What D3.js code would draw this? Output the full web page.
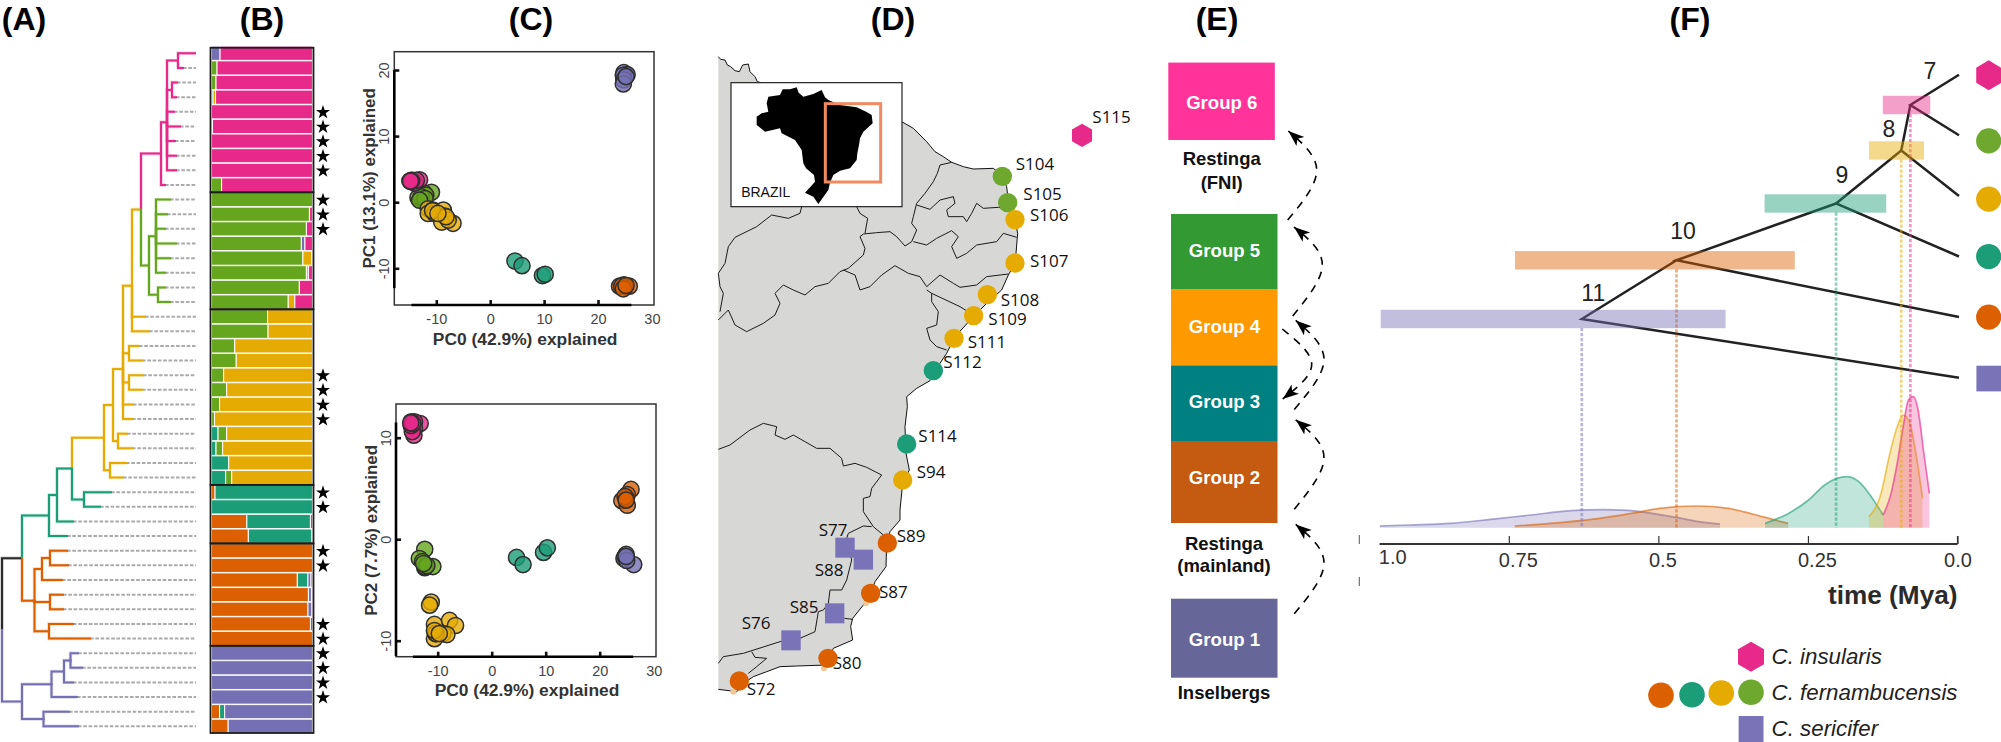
<!DOCTYPE html>
<html><head><meta charset="utf-8">
<script src="https://cdn.jsdelivr.net/npm/d3@7/dist/d3.min.js"></script>
<style>html,body{margin:0;padding:0;background:#fff;overflow:hidden}svg{display:block;font-family:"Liberation Sans",Arial,sans-serif}</style>
</head><body><svg id="c" width="2001" height="742"></svg>
<script>
// ---------- shared colours ----------
const clusterColors = {orange:"#dc5f00",teal:"#1b9e77",green:"#66a61e",purple:"#7570b3",yellow:"#e6ab02",pink:"#e7298a",black:"#2b2b2b"};
const panelTitles = ["(A)","(B)","(C)","(D)","(E)","(F)"];
// ---------- A: tree (depth, children) ----------
const n=(d,c,...k)=>({d,c,k});
const treeRoot = n(0,"black",
 n(20,"black",
  n(47,"teal",
   n(55,"teal",
    n(70,"teal",
     n(102,"yellow",
      n(111,"yellow",
       n(121,"yellow",
        n(130,"yellow",
         n(139,"yellow",
          n(159,"pink",
           n(165,"pink",
            n(176,"pink",n(193),n(181)),
            n(170,"pink",n(175),n(174)),
            n(172),n(178),n(173),n(174),n(174)),
           n(163)),
          n(147,"green",
           n(154,"green",n(168),n(165),n(163),n(174),n(168),n(163)),
           n(156,"green",n(163),n(168)))),
         n(143),n(147)),
        n(127,"yellow",n(137),n(140)),
        n(127,"yellow",n(141),n(140)),
        n(131),n(130)),
       n(116,"yellow",n(125),n(130))),
      n(108,"yellow",n(124),n(121))),
     n(82,"teal",n(109),n(98))),
    n(71)),
   n(65)),
  n(32.5,"orange",
   n(40,"orange",n(48,"orange",n(65),n(66)),n(60)),
   n(48,"orange",n(61),n(61)),
   n(47,"orange",n(71),n(88)))),
 n(20,"purple",
  n(49.5,"purple",
   n(62,"purple",n(68.5,"purple",n(76),n(80)),n(71)),
   n(75)),
  n(41.5,"purple",n(67),n(76))));
// ---------- B: admixture, one array per cluster, 47 rows ----------
const stackKeys = ["orange","teal","green","purple","yellow","pink"];
const qOrange = [0,0,0,0,0,0,0,0,0,0, 0,0,0,0,0,0,0,0, 0,0,0,0,0,0,0,0,0,0,0,0, .035,0,.35,.365, 1,1,.85,.96,.955,.98,1, 0,0,0,0,.08,.165];
const qTeal   = [0,0,0,.015,0,0,0,0,0,0, 0,0,0,0,0,0,0,0, 0,0,0,0,0,0,0,0,.065,.045,.17,.14, .965,1,.63,.63, 0,0,.105,0,0,0,0, 0,0,0,0,.05,0];
const qGreen  = [0,.055,.045,0,0,0,0,0,0,.1, 1,.97,.94,.89,.905,.94,.87,.76, .555,.56,.23,.245,.12,.15,.08,.03,.085,.065,0,.06, 0,0,0,0, 0,0,0,0,0,0,0, 0,0,0,0,0,0];
const qPurple = [.085,0,0,0,0,.01,0,0,0,0, 0,0,0,.035,0,0,0,0, 0,0,0,0,0,0,0,0,0,0,0,0, 0,0,0,0, 0,0,.03,.03,.04,0,0, 1,1,1,1,.87,.835];
const qYellow = [0,0,0,.025,0,0,0,0,0,0, 0,0,0,0,.09,.02,0,.065, .445,.44,.77,.755,.88,.85,.92,.97,.85,.89,.83,.8, 0,0,0,0, 0,0,0,0,0,0,0, 0,0,0,0,0,0];
const qPink   = [.915,.945,.955,.96,1,.99,1,1,1,.9, 0,.03,.06,.075,.005,.04,.13,.175, 0,0,0,0,0,0,0,0,0,0,0,0, 0,0,.02,.005, 0,0,.015,.01,.005,.02,0, 0,0,0,0,0,0];
const starRows = [4,5,6,7,8,10,11,12,22,23,24,25,30,31,34,35,39,40,41,42,43,44];
const groupBreaks = [0,10,18,30,34,41,47];
// ---------- C: PCA ----------
const pcaGroups = ["purple","orange","teal","green","yellow","pink"];
const topX = {purple:[24.8,25.4,24.7,24.8,24.7,25.2],orange:[24,24.8,25.8,25,24.4,24.7,25.2],teal:[4.6,5.9,9.7,10.2],green:[-10.9,-12.3,-13.4,-12.4,-11.95,-12.8,-12.1,-13.1],yellow:[-11.5,-11.5,-10.6,-10.3,-8.7,-8.4,-6.9,-9,-7.8,-10.7,-8.2,-9.7],pink:[-13.1,-14.7,-14.6,-14.3,-14,-14.4,-13.7,-14.9,-14.6,-14.8]};
const topY = {purple:[19.6,19.3,19.2,18.5,17.9,19],orange:[-12.7,-12.5,-12.7,-12.8,-12.7,-13.1,-12.6],teal:[-8.9,-9.6,-11.1,-10.9],green:[1.5,1.4,.7,.3,1.06,.8,.55,.3],yellow:[-1,-1.7,-1.2,-1.7,-1.2,-2.1,-3.2,-3,-2.7,-1.3,-2.2,-1.7],pink:[3.4,3.3,3.1,3.1,2.9,3.3,3.3,3.2,3.2,3.2]};
const botX = {purple:[24.9,26.3,24.5,24.7,25,24.9],orange:[25.8,25.1,24.1,25.1,24.9,24.7,24.9],teal:[4.6,5.8,9.6,10.3],green:[-12.4,-13.4,-10.9,-12.4,-12.3,-12.8,-12,-12.6],yellow:[-11.2,-11.5,-10.6,-10.6,-10.4,-7.8,-6.7,-9,-8.3,-10.3,-10.6,-9.7],pink:[-13.25,-14.3,-14.9,-14.6,-14.3,-14.4,-14.7,-14.9,-14.6,-15]};
const botY = {purple:[-1.5,-2.5,-1.9,-1.7,-2.1,-1.7],orange:[4.9,4.4,3.8,3.35,4,4.2,3.85],teal:[-1.8,-2.5,-1.3,-.85],green:[-1,-1.9,-2.7,-2.8,-2.7,-2.2,-2.6,-2.4],yellow:[-6.2,-6.5,-8.4,-9.8,-9.3,-8,-8.5,-9.3,-9.4,-9.3,-9,-9.3],pink:[11.4,11.56,11.56,11.2,10.9,10.25,10.6,11.2,11.4,11.46]};
const pcaXTicks=[-10,0,10,20,30], pcaTopYTicks=[-10,0,10,20], pcaBotYTicks=[-10,0,10];
// ---------- D: map, in map units ----------
const coastNorth=[[55,170],[62,178],[75,180],[82,195],[92,200],[105,212],[118,215],[128,195],[145,192],[150,215],[165,230],[172,245],[605,365],[640,385],[660,405],[680,425],[705,455],[730,470],[755,487],[790,500],[820,507],[880,505],[905,525],[920,560],[925,605],[945,660],[953,700],[948,760],[945,790],[925,825],[905,870],[860,910],[820,950],[765,1010],[740,1060],[720,1090],[700,1110]];
const coastSouth=[[700,10],[690,32],[650,55],[620,80],[622,110],[615,170],[618,250],[628,300],[608,340],[600,420],[600,450],[570,485],[560,520],[558,590],[525,635],[510,680],[490,705],[458,745],[452,770],[458,810],[400,835],[380,885],[290,888],[240,890],[200,905],[160,920],[145,930],[110,965],[55,958]];
const bordersNorth=[
 [[755,487],[720,495],[712,520],[700,545],[675,580],[650,610],[640,650],[635,670],[650,690],[635,725],[615,738],[590,710],[570,695],[530,698],[490,702],[480,710],[495,745],[490,765],[445,805],[420,815],[385,850],[345,860],[315,885],[280,870],[250,855],[225,880],[240,910],[225,945],[190,970],[140,995],[105,975],[85,930],[55,960]],
 [[650,615],[690,628],[720,600],[760,590],[765,610],[740,630],[745,650],[790,650],[800,665],[815,640],[830,610],[850,625],[895,622],[925,628]],
 [[640,725],[680,735],[710,715],[755,692],[775,710],[755,740],[770,775],[800,760],[830,735],[890,725],[910,700],[950,712]],
 [[430,810],[465,825],[480,870],[510,860],[545,825],[585,797],[625,820],[660,830],[680,860],[720,825],[760,850],[780,862],[830,855],[860,830],[925,822]],
 [[680,870],[695,880],[780,920],[820,945]],
 [[695,880],[695,905],[715,935],[710,975],[680,985],[690,1020],[710,1040],[740,1050]],
 [[305,620],[300,640],[265,655],[215,645],[170,680],[105,712],[85,740],[75,790],[55,820],[60,860],[70,880],[60,935]],
 [[470,620],[480,640],[503,655],[495,700]]];
const bordersSouth=[
 [[55,238],[90,225],[150,180],[190,160],[230,170],[225,195],[255,208],[280,195],[350,235],[390,235],[425,265],[430,288],[465,280],[500,292],[545,315],[515,355],[510,380],[490,385],[490,425],[520,470],[550,495]],
 [[515,470],[490,468],[445,490],[440,505],[455,570],[440,630],[425,660],[390,660],[385,700],[370,720],[355,725],[345,785],[300,805],[240,815],[130,850],[70,860],[55,880]],
 [[155,845],[165,862],[200,865],[170,890],[145,910]],
 [[433,745],[458,748]]];
const brazilShape=[[248,268],[270,268],[290,262],[296,278],[310,290],[340,282],[365,270],[375,292],[385,300],[420,315],[470,322],[500,336],[515,345],[518,370],[490,395],[480,415],[478,430],[472,460],[470,480],[450,505],[420,512],[400,525],[390,548],[385,570],[355,612],[340,590],[315,578],[345,545],[342,525],[318,505],[310,490],[305,450],[285,420],[245,400],[240,385],[195,395],[170,375],[170,350],[185,340],[205,335],[200,310],[205,290],[240,285]];
const siteNames=["S115","S104","S105","S106","S107","S108","S109","S111","S112","S114","S94","S89","S87","S80","S72","S77","S88","S85","S76"];
const siteGroup=["pink","green","green","yellow","yellow","yellow","yellow","yellow","teal","teal","yellow","orange","orange","orange","orange","purple","purple","purple","purple"];
const siteMapX=[1146,907,923,945,945,862,821,762,700,620,608,562,512,384,118,435,490,404,273];
const siteMapY=[406,529,608,659,789,884,947,1015,1112,1332,1440,1629,1780,1975,2043,1643,1679,1840,1921];
const siteLabelX=[1177,947,970,990,990,902,865,803,730,655,650,590,537,398,140,356,344,269,125];
const siteLabelY=[350,490,580,643,780,897,955,1023,1085,1305,1413,1607,1773,1987,2065,1587,1707,1819,1867];
const beachDots=[[498,1810],[372,2005],[100,2075]];
// ---------- E ----------
const groupLabels=["Group 6","Group 5","Group 4","Group 3","Group 2","Group 1"];
const groupFills=["#ff3399","#339933","#ff9900","#008080","#c55a11","#666699"];
const habitatLabels=[["Restinga",158.5],["(FNI)",182],["Restinga",543],["(mainland)",565.5],["Inselbergs",692.4]];
const migrationArrows=[
 [[1287.7,220],[1316.7,170.4],[1288.3,131]],
 [[1292.7,316],[1322.3,265],[1294,227]],
 [[1282.3,329],[1311.7,364.4],[1282.7,399]],
 [[1294.3,409.4],[1324,359.7],[1295.7,320.4]],
 [[1294.3,509.2],[1324,458],[1295.7,419.8]],
 [[1294.3,613.8],[1324,563.2],[1295.7,524.4]]];
// ---------- F ----------
const tipOrder=["insularis","green","yellow","teal","orange","sericifer"];
const tipColors=["pink","green","yellow","teal","orange","purple"];
const nodeNames=["7","8","9","10","11"];
const nodeColors=["pink","yellow","teal","orange","purple"];
const nodeTimes=[.0788,.094,.203,.4697,.628];
const nodeLow=[.0455,.056,.1191,.272,.3877];
const nodeHigh=[.1249,.148,.3225,.7396,.9642];
const densityTimes={purple:[.9656,.915,.848,.78,.713,.646,.592,.552,.511,.471,.424,.397],orange:[.74,.68,.612,.545,.498,.437,.383,.343,.309,.283],teal:[.3216,.2825,.249,.222,.2018,.185,.165,.148,.1244],yellow:[.148,.1278,.1143,.1008,.0908,.0806,.0705,.0585],pink:[.1244,.111,.1008,.0908,.082,.074,.0658,.057,.047]};
const densityValues={purple:[1.7,2.7,4.3,8.3,12.7,17,18,17.3,14.3,10.3,5.3,3.7],orange:[1.7,4.3,8.3,14.3,19.3,21.7,19.3,13.7,8.3,4.3],teal:[4.3,14.3,27.7,42.7,49.3,51,46,34.3,12.7],yellow:[11,34.3,71,101,112.7,106,77.7,29.3],pink:[12.7,34.3,64.3,101,127.7,131,117.7,77.7,34.3]};
const timeTicks=[.75,.5,.25,0], timeTickLabels=["0.75","0.5","0.25","0.0"];
const legendRows=["C. insularis","C. fernambucensis","C. sericifer"];
const legendCircles=["orange","teal","yellow","green"];

// ====================== drawing =========================
const svg=d3.select("#c");
const K=clusterColors;
const txt=(g,x,y,s,o={})=>g.append("text").attr("x",x).attr("y",y).attr("dominant-baseline","central").text(s)
   .attr("font-size",o.size||14).attr("font-weight",o.w||null).attr("font-style",o.st||null)
   .attr("fill",o.fill||"#111").attr("text-anchor",o.a||"start").attr("font-family",o.ff||null);
const titleX=[24,262,531,893,1217,1690];
panelTitles.forEach((t,i)=>txt(svg,titleX[i],19,t,{size:32,w:"bold",a:"middle",fill:"#000"}));

// ---- A
const rowY=d3.scaleLinear().domain([0,46]).range([53.3,726.3]);
const treeX=d3.scaleLinear().domain([0,194]).range([2,196]);
let leafCounter=0; const edges=[],leaves=[];
(function layout(node,color){
  node.color=node.c||color;
  if(!node.k.length){node.row=leafCounter++;node.y=rowY(node.row);leaves.push(node);return;}
  node.k.forEach(k=>layout(k,node.color));
  node.y=d3.mean(node.k,k=>k.y);
})(treeRoot,"black");
(function collect(node){node.k.forEach(k=>{edges.push({p:node,c:k});collect(k);});})(treeRoot);
const gA=svg.append("g");
gA.selectAll("line.tip").data(leaves).join("line").attr("x1",d=>treeX(d.d)).attr("x2",treeX(194))
  .attr("y1",d=>d.y).attr("y2",d=>d.y).attr("stroke","#aaa").attr("stroke-width",2).attr("stroke-dasharray","3.6,1.7");
const edgePath=e=>d3.line()([[treeX(e.p.d),e.p.y],[treeX(e.p.d),e.c.y],[treeX(e.c.d),e.c.y]]);
gA.selectAll("path.h").data(edges).join("path").attr("d",edgePath).attr("fill","none").attr("stroke",e=>K[e.c.color]).attr("stroke-width",3.4).attr("opacity",.28);
gA.selectAll("path.e").data(edges).join("path").attr("d",edgePath).attr("fill","none").attr("stroke",e=>K[e.c.color]).attr("stroke-width",2).attr("stroke-linecap","square");

// ---- B
const barX=d3.scaleLinear().domain([0,1]).range([211.5,312.5]);
const qTable=d3.range(47).map(i=>({i,orange:qOrange[i],teal:qTeal[i],green:qGreen[i],purple:qPurple[i],yellow:qYellow[i],pink:qPink[i]}));
const stacked=d3.stack().keys(stackKeys)(qTable);
const gB=svg.append("g");
stacked.forEach(s=>{
  gB.selectAll(null).data(s.filter(d=>d[1]-d[0]>0)).join("rect")
    .attr("x",d=>barX(d[0])).attr("width",d=>barX(Math.min(d[1],1))-barX(d[0]))
    .attr("y",d=>rowY(d.data.i)-7.1).attr("height",14.2)
    .attr("fill",K[s.key]).attr("stroke","#fff").attr("stroke-opacity",.9).attr("stroke-width",1.1);
});
const rowEdge=i=>i===0?47.7:i===47?733:(rowY(i-1)+rowY(i))/2;
gB.selectAll("rect.f").data(d3.pairs(groupBreaks)).join("rect").attr("x",barX(0)-1).attr("width",barX(1)-barX(0)+2)
  .attr("y",d=>rowEdge(d[0])).attr("height",d=>rowEdge(d[1])-rowEdge(d[0]))
  .attr("fill","none").attr("stroke","#1c1c1c").attr("stroke-width",1.8);
gB.selectAll("path.s").data(starRows).join("path").attr("d",d3.symbol(d3.symbolStar,62))
  .attr("transform",d=>`translate(323,${rowY(d)+.5})`).attr("fill","#000");

// ---- C
function pca(xs,ys,frame,xr,xd,yr,yd,yTicks,yl,xLine,yLine,xlabel,ylabel){
  const g=svg.append("g");
  const x=d3.scaleLinear().domain(xd).range(xr), y=d3.scaleLinear().domain(yd).range(yr);
  g.append("rect").attr("x",frame[0]).attr("y",frame[1]).attr("width",frame[2]-frame[0]).attr("height",frame[3]-frame[1]).attr("fill","none").attr("stroke","#333").attr("stroke-width",1.5);
  const ax=g.append("g").attr("transform",`translate(0,${frame[3]})`).call(d3.axisBottom(x).tickValues(pcaXTicks).tickSizeInner(-5).tickPadding(9).tickFormat(d3.format("d")));
  ax.select(".domain").remove();
  ax.selectAll(".tick line").attr("stroke","#111").attr("stroke-width",2.6).filter(d=>d===30).remove();
  ax.selectAll("text").attr("font-size",14.5).attr("fill","#444").attr("font-family","Liberation Sans").text(d=>d<0?"-"+(-d):d);
  const ay=g.append("g").attr("transform",`translate(${frame[0]},0)`).call(d3.axisLeft(y).tickValues(yTicks).tickSizeInner(-5).tickPadding(0).tickFormat(d=>d));
  ay.select(".domain").remove();
  ay.selectAll(".tick line").attr("stroke","#111").attr("stroke-width",2.6);
  ay.selectAll("text").attr("font-size",14.5).attr("fill","#444").attr("font-family","Liberation Sans").attr("text-anchor","middle").attr("x",null).attr("dy",null).attr("dominant-baseline","central").attr("transform","translate(-10,0) rotate(-90)");
  g.append("line").attr("x1",x(xLine[0])).attr("x2",x(xLine[1])).attr("y1",frame[3]).attr("y2",frame[3]).attr("stroke","#000").attr("stroke-width",2.6);
  g.append("line").attr("y1",y(yLine[0])).attr("y2",y(yLine[1])).attr("x1",frame[0]).attr("x2",frame[0]).attr("stroke","#000").attr("stroke-width",2.6);
  txt(g,(frame[0]+frame[2])/2+1,frame[3]+(yl.xo),xlabel,{size:17.4,w:"bold",a:"middle",fill:"#333"});
  g.append("text").attr("transform",`translate(${frame[0]-25},${(frame[1]+frame[3])/2}) rotate(-90)`).attr("text-anchor","middle").attr("dominant-baseline","central").attr("font-size",17).attr("font-weight","bold").attr("fill","#333").text(ylabel);
  pcaGroups.forEach(k=>{
    g.selectAll(null).data(xs[k].map((v,i)=>[v,ys[k][i]])).join("circle")
      .attr("cx",d=>x(d[0])).attr("cy",d=>y(d[1])).attr("r",8.1)
      .attr("fill",K[k]).attr("fill-opacity",.8).attr("stroke","#2f2f2f").attr("stroke-width",1.5);
  });
}
pca(topX,topY,[394.3,51.7,654,305],[436.3,598],[-10,20],[268.3,70],[-10,20],pcaTopYTicks,{xo:34},[-14.6,26.2],[20,-13],"PC0 (42.9%) explained","PC1 (13.1%) explained");
pca(botX,botY,[396,404,656,656.7],[437.7,599.7],[-10,20],[640.7,437.7],[-10,10],pcaBotYTicks,{xo:33},[-14.6,26.2],[11.5,-11.5],"PC0 (42.9%) explained","PC2 (7.7%) explained");

// ---- D
const mapX=d3.scaleLinear().domain([0,1380]).range([700,1160]);
const mapY=d3.scaleLinear().domain([0,1110]).range([0,370]);
const south=a=>a.map(p=>[p[0],p[1]+1110]);
const mapLine=d3.line().x(p=>mapX(p[0])).y(p=>mapY(p[1]));
const gD=svg.append("g");
const coast=coastNorth.concat(south(coastSouth));
gD.append("path").attr("d",mapLine(coast)+"Z").attr("fill","#d7d7d6");
gD.append("path").attr("d",mapLine(coast)).attr("fill","none").attr("stroke","#111").attr("stroke-width",1);
bordersNorth.concat(bordersSouth.map(south)).forEach(b=>gD.append("path").attr("d",mapLine(b)).attr("fill","none").attr("stroke","#1a1a1a").attr("stroke-width",1));
// inset
gD.append("rect").attr("x",mapX(93)).attr("y",mapY(248)).attr("width",mapX(606)-mapX(93)).attr("height",mapY(620)-mapY(248)).attr("fill","#fff").attr("stroke","#222").attr("stroke-width",1.2);
gD.append("path").attr("d",mapLine(brazilShape)+"Z").attr("fill","#000");
gD.append("rect").attr("x",mapX(376)).attr("y",mapY(311)).attr("width",mapX(542)-mapX(376)).attr("height",mapY(546)-mapY(311)).attr("fill","none").attr("stroke","#f08a60").attr("stroke-width",3);
txt(gD,mapX(197),mapY(576),"BRAZIL",{size:14,a:"middle",fill:"#111"});
// site labels first (markers sit on top)
siteNames.forEach((s,i)=>txt(gD,mapX(siteLabelX[i]),mapY(siteLabelY[i]),s,{size:17,ff:"Open Sans",fill:"#111"}));
gD.selectAll("circle.b").data(beachDots).join("circle").attr("cx",d=>mapX(d[0])).attr("cy",d=>mapY(d[1])).attr("r",3).attr("fill","#f0c898");
const hexPts=(cx,cy,r)=>d3.range(6).map(i=>{const a=Math.PI/3*i;return [cx+r*Math.sin(a),cy-r*Math.cos(a)];});
const hex=(g,cx,cy,r,f)=>g.append("path").attr("d",d3.line()(hexPts(cx,cy,r))+"Z").attr("fill",f);
siteNames.forEach((s,i)=>{
  const c=K[siteGroup[i]],x=mapX(siteMapX[i]),y=mapY(siteMapY[i]);
  if(siteGroup[i]==="pink") hex(gD,x,y,11.6,c);
  else if(siteGroup[i]==="purple") gD.append("rect").attr("x",x-9.7).attr("y",y-10).attr("width",19.4).attr("height",20).attr("fill","#7a73b8");
  else gD.append("circle").attr("cx",x).attr("cy",y).attr("r",9.7).attr("fill",siteGroup[i]==="green"?"#6fa82f":c);
});

// ---- E
const gE=svg.append("g");
const boxX=[1168.3,1171,1171,1171,1171,1171], boxTop=[62.6,214,289.6,365.4,441,598.7], boxBottom=[140,289.6,365.4,441,523,677.7];
groupLabels.forEach((s,i)=>{
  gE.append("rect").attr("x",boxX[i]).attr("y",boxTop[i]).attr("width",106.5).attr("height",boxBottom[i]-boxTop[i]).attr("fill",groupFills[i]);
  txt(gE,boxX[i]+53.5,(boxTop[i]+boxBottom[i])/2-(i===4?5:i===0?-1.5:1.5)+ (i===5?3:0),s,{size:18.6,w:"bold",a:"middle",fill:"#fff"});
});
const habX=[1221.7,1221.7,1224,1224,1224];
habitatLabels.forEach((h,i)=>txt(gE,habX[i],h[1],h[0],{size:18.5,w:"bold",a:"middle",fill:"#111"}));
svg.append("defs").append("marker").attr("id","ah").attr("markerUnits","userSpaceOnUse").attr("markerWidth",18).attr("markerHeight",14).attr("refX",16).attr("refY",7).attr("orient","auto")
  .append("path").attr("d","M0,1 L16,7 L0,13 L4,7Z").attr("fill","#000");
migrationArrows.forEach(a=>gE.append("path").attr("d",d3.line().curve(d3.curveNatural)(a)).attr("fill","none").attr("stroke","#000").attr("stroke-width",1.6).attr("stroke-dasharray","8,7").attr("marker-end","url(#ah)"));
[[535,544],[577,586]].forEach(d=>svg.append("line").attr("x1",1359.3).attr("x2",1359.3).attr("y1",d[0]).attr("y2",d[1]).attr("stroke","#555").attr("stroke-width",1));

// ---- F
const gF=svg.append("g");
const timeX=d3.scaleLinear().domain([0,.75]).range([1957.5,1508.8]);
const tipY=d3.scalePoint().domain(tipOrder).range([74.7,377.7]);
const densY=d3.scaleLinear().domain([0,131]).range([527.7,396.7]);
// densities
["purple","orange","teal","yellow","pink"].forEach(k=>{
  const pts=densityTimes[k].map((t,i)=>[t,densityValues[k][i]]);
  gF.append("path").attr("d",d3.area().x(d=>timeX(d[0])).y0(densY(0)).y1(d=>densY(d[1])).curve(d3.curveMonotoneX)(pts)).attr("fill",K[k]).attr("fill-opacity",.27);
  gF.append("path").attr("d",d3.line().x(d=>timeX(d[0])).y(d=>densY(d[1])).curve(d3.curveMonotoneX)(pts)).attr("fill","none").attr("stroke",K[k]).attr("stroke-opacity",.62).attr("stroke-width",1.7);
});
// tree (ladder: each node joins previous clade and one tip)
let nodeY=[]; 
nodeTimes.forEach((t,i)=>{
  const prev=i===0?tipY(tipOrder[0]):nodeY[i-1], tip=tipY(tipOrder[i+1]);
  nodeY.push((prev+tip)/2);
});
const tipEnd=timeX(-.0025);
nodeTimes.forEach((t,i)=>{
  const px=timeX(t),py=nodeY[i];
  const up=i===0?[tipEnd,tipY(tipOrder[0])]:[timeX(nodeTimes[i-1]),nodeY[i-1]];
  gF.append("path").attr("d",d3.line()([up,[px,py],[tipEnd,tipY(tipOrder[i+1])]])).attr("fill","none").attr("stroke","#222").attr("stroke-width",2.5);
});
const nodeLabelX=[1930,1889,1842,1683,1593.3], nodeLabelY=[70.7,129,175,231,293.3];
nodeTimes.forEach((t,i)=>{
  const c=K[nodeColors[i]];
  gF.append("rect").attr("x",timeX(nodeHigh[i])).attr("width",timeX(nodeLow[i])-timeX(nodeHigh[i])).attr("y",nodeY[i]-9.2).attr("height",18.4).attr("fill",c).attr("fill-opacity",.45);
  gF.append("line").attr("x1",timeX(t)).attr("x2",timeX(t)).attr("y1",nodeY[i]+9).attr("y2",densY(0)).attr("stroke",c).attr("stroke-opacity",.5).attr("stroke-width",2.7).attr("stroke-dasharray","3.2,1.8");
  txt(gF,nodeLabelX[i],nodeLabelY[i],nodeNames[i],{size:23,a:"middle",fill:"#222"});
});
// axis
const ax=gF.append("g").attr("transform","translate(0,544)").call(d3.axisBottom(timeX).tickValues(timeTicks).tickSizeInner(-8).tickPadding(0).tickFormat((d,i)=>timeTickLabels[i]));
ax.select(".domain").remove();
ax.selectAll(".tick line").attr("stroke","#333").attr("stroke-width",1.2);
const tickShift=[9,4,9,0];
ax.selectAll(".tick text").attr("font-size",20).attr("fill","#333").attr("font-family","Liberation Sans").attr("y",16).attr("dy",null).attr("dominant-baseline","central").attr("dx",(d,i)=>tickShift[i]);
gF.append("line").attr("x1",timeX(.966)).attr("x2",timeX(0)).attr("y1",544).attr("y2",544).attr("stroke","#333").attr("stroke-width",2.2);
gF.append("line").attr("x1",timeX(0)).attr("x2",timeX(0)).attr("y1",536).attr("y2",544).attr("stroke","#333").attr("stroke-width",1.2);
txt(gF,timeX(.944),556.7,"1.0",{size:20,a:"middle",fill:"#333"});
txt(gF,1957.5,595,"time (Mya)",{size:26.2,w:"bold",a:"end",fill:"#2a2a2a"});
// tip markers
tipOrder.forEach((t,i)=>{
  const y=tipY(t)+(i===0?.6:i===1?5.6:i===2?3.3:0),c=K[tipColors[i]],x=1988.7;
  if(i===0) hex(gF,x,y,15,c).attr("transform",`translate(${x},${y}) scale(.96,1) translate(${-x},${-y})`);
  else if(i===5) gF.append("rect").attr("x",x-12.3).attr("y",y-12).attr("width",24.6).attr("height",25.7).attr("fill","#7a73b8");
  else gF.append("circle").attr("cx",x).attr("cy",y).attr("r",12.6).attr("fill",i===1?"#6fa82f":c);
});
// legend
const legendY=[656,692.7,728];
legendRows.forEach((s,i)=>txt(gF,1771.6,legendY[i],s,{size:22.3,st:"italic",fill:"#222"}));
hex(gF,1751,656.7,15,K.pink);
const lcX=[1661,1692,1721.3,1751],lcY=[695.3,694.7,693,692.3];
legendCircles.forEach((k,i)=>gF.append("circle").attr("cx",lcX[i]).attr("cy",lcY[i]).attr("r",12.8).attr("fill",k==="green"?"#6fa82f":K[k]));
gF.append("rect").attr("x",1738.6).attr("y",716).attr("width",24.9).attr("height",26).attr("fill","#7a73b8");
</script></body></html>
